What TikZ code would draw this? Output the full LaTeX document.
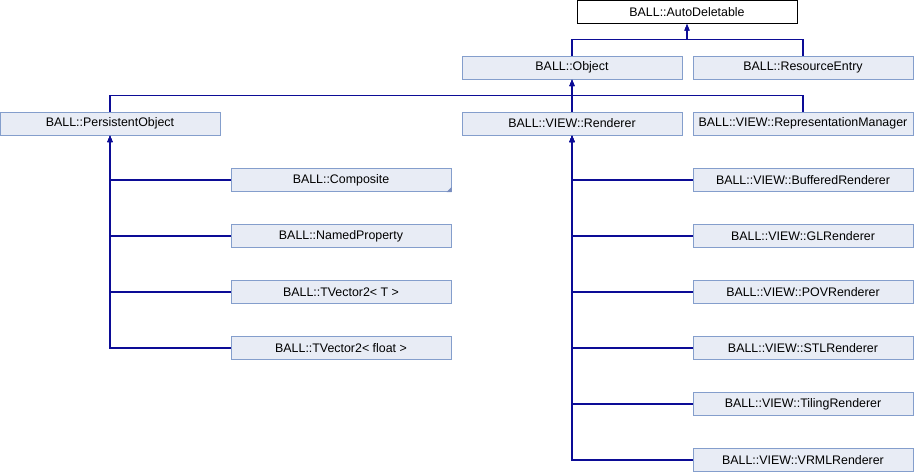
\documentclass[tikz,border=0pt]{standalone}
\usepackage{fontspec}
\setmainfont{Liberation Sans}
\usepackage{tikz}
\usetikzlibrary{arrows.meta,positioning}
\definecolor{boxfill}{RGB}{232,236,245}
\definecolor{boxline}{RGB}{132,158,204}
\definecolor{linkblue}{RGB}{12,12,150}
\definecolor{cornertri}{RGB}{120,140,190}

\begin{document}
\begin{tikzpicture}[x=1pt,y=-1pt,every node/.style={font=\fontsize{12.4}{14}\selectfont,align=center,inner sep=0pt},cls/.style={draw=boxline,fill=boxfill,line width=1pt,minimum width=220pt,minimum height=23pt},root/.style={cls,draw=black,fill=white},inherit/.style={-{Triangle[length=6.5pt,width=5pt]},draw=linkblue,line width=1.1pt}]
\useasboundingbox (0,0) rectangle (914,472);
\node[root] (autodel) at (687,12) {BALL::AutoDeletable};
\node[cls] (object) at (572,67.5) {BALL::Object}; \node[cls] (resentry) at (803,67.5) {BALL::ResourceEntry};
\node[cls] (persobj) at (110,123.5) {BALL::PersistentObject}; \node[cls] (renderer) at (572,123.5) {BALL::VIEW::Renderer}; \node[cls] (repman) at (803,123.5) {BALL::VIEW::RepresentationManager};
\node[cls] (composite) at (341,180) {BALL::Composite}; \node[cls] (namedprop) at (341,236) {BALL::NamedProperty};
\node[cls] (tvecT) at (341,292) {BALL::TVector2< T >}; \node[cls] (tvecfloat) at (341,348) {BALL::TVector2< float >};
\node[cls] (buffered) at (803,180) {BALL::VIEW::BufferedRenderer}; \node[cls] (glrend) at (803,236) {BALL::VIEW::GLRenderer};
\node[cls] (povrend) at (803,292) {BALL::VIEW::POVRenderer}; \node[cls] (stlrend) at (803,348) {BALL::VIEW::STLRenderer};
\node[cls] (tilingrend) at (803,404) {BALL::VIEW::TilingRenderer}; \node[cls] (vrmlrend) at (803,460) {BALL::VIEW::VRMLRenderer};
% truncated marker
\fill[cornertri] (composite.south east) -- ++(-5,0) -- ++(5,-5) -- cycle;
\draw[inherit] (object.north) -- ++(0,-16) -| (autodel.south); \draw[inherit] (resentry.north) -- ++(0,-16) -| (autodel.south);
\foreach \kid in {persobj,renderer,repman} \draw[inherit] (\kid.north) -- ++(0,-16) -| (object.south);
\foreach \kid in {composite,namedprop,tvecT,tvecfloat} \draw[inherit] (\kid.west) -| (persobj.south);
\foreach \kid in {buffered,glrend,povrend,stlrend,tilingrend,vrmlrend} \draw[inherit] (\kid.west) -| (renderer.south);
\end{tikzpicture}
\end{document}
